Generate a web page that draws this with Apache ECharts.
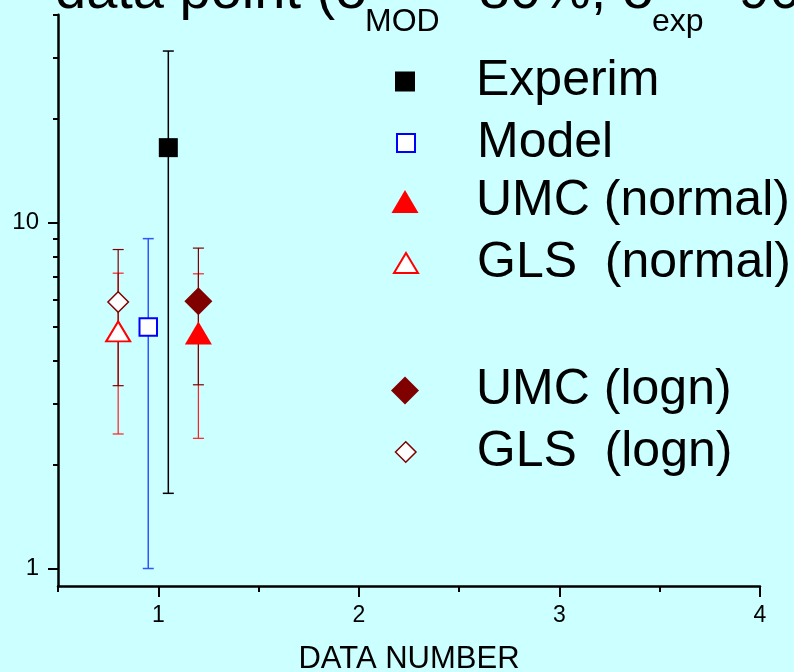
<!DOCTYPE html>
<html><head><meta charset="utf-8">
<script src="https://cdn.jsdelivr.net/npm/echarts@6/dist/echarts.min.js"></script>
<style>html,body{margin:0;padding:0;background:#ccffff}#c{width:794px;height:672px}</style>
</head><body><div id="c"></div>
<script>
// ---- data ----
const seriesNames = ['Experim', 'Model', 'UMC (normal)', 'GLS  (normal)', 'UMC (logn)', 'GLS  (logn)'];
const xPos = [1.05, 0.95, 1.2, 0.8, 1.2, 0.8];
const values = [16.5, 5.0, 4.8, 4.85, 5.93, 5.9];
const lowErr = [1.65, 1.0, 2.38, 2.45, 3.40, 3.38];
const highErr = [31.4, 9.0, 7.12, 7.15, 8.45, 8.37];
const xTickLabels = [1, 2, 3, 4];
const xMinorTicks = [0.5, 1.5, 2.5, 3.5];
const yTickLabels = [1, 10];
const yMinorTicks = [2, 3, 4, 5, 6, 7, 8, 9, 20, 30, 40];

// ---- styles ----
const FONT = '"Liberation Sans", Arial, sans-serif';
const styles = [
  {symbol: 'rect', size: [19, 19], fill: '#000000', stroke: '#000000', bw: 0, bar: '#000000', barW: 1.5, lw: 20, lh: 20, lbw: 0},
  {symbol: 'rect', size: [17.5, 17.5], fill: '#ffffff', stroke: '#0000ff', bw: 2, bar: '#3355ff', barW: 1.5, lw: 18, lh: 18, lbw: 2},
  {symbol: 'triangle', size: [27, 23], fill: '#ff0000', stroke: '#ff0000', bw: 0, bar: '#ff2020', barW: 1.2, lw: 27, lh: 23, lbw: 0},
  {symbol: 'triangle', size: [24, 20], fill: '#ffffff', stroke: '#ff0000', bw: 2, bar: '#ff2020', barW: 1.2, lw: 24, lh: 20, lbw: 2},
  {symbol: 'diamond', size: [28, 28], fill: '#800000', stroke: '#800000', bw: 0, bar: '#800000', barW: 1.2, lw: 28, lh: 28, lbw: 0},
  {symbol: 'diamond', size: [20.5, 20.5], fill: '#ffffff', stroke: '#800000', bw: 1.5, bar: '#800000', barW: 1.2, lw: 20.5, lh: 20.5, lbw: 1.5}
];
const legendCenters = [81.5, 143, 201.5, 263, 390.5, 452];
const barOrder = [0, 1, 2, 3, 4, 5];

const chart = echarts.init(document.getElementById('c'), null, {renderer: 'canvas'});

function makeErrRender(color, width) {
  return function (params, api) {
    const x = api.value(0), lo = api.value(1), hi = api.value(2);
    const pLo = api.coord([x, lo]);
    const pHi = api.coord([x, hi]);
    const hw = 5.5;
    const st = {stroke: color, lineWidth: width};
    return {
      type: 'group',
      children: [
        {type: 'line', shape: {x1: pLo[0], y1: pLo[1], x2: pHi[0], y2: pHi[1]}, style: st},
        {type: 'line', shape: {x1: pLo[0] - hw, y1: pLo[1], x2: pLo[0] + hw, y2: pLo[1]}, style: st},
        {type: 'line', shape: {x1: pHi[0] - hw, y1: pHi[1], x2: pHi[0] + hw, y2: pHi[1]}, style: st}
      ]
    };
  };
}

const series = [];
barOrder.forEach(i => {
  const s = styles[i];
  series.push({
    type: 'custom',
    name: 'err_' + i,
    xAxisIndex: 0, yAxisIndex: 0,
    z: 1,
    silent: true,
    renderItem: makeErrRender(s.bar, s.barW),
    encode: {x: 0, y: [1, 2]},
    data: [[xPos[i], lowErr[i], highErr[i]]]
  });
});
seriesNames.forEach((name, i) => {
  const s = styles[i];
  series.push({
    type: 'scatter',
    name: name,
    xAxisIndex: 0, yAxisIndex: 0,
    z: 3,
    symbol: s.symbol,
    symbolSize: s.size,
    itemStyle: {color: s.fill, borderColor: s.stroke, borderWidth: s.bw, opacity: 1},
    emphasis: {disabled: true},
    data: [[xPos[i], values[i]]]
  });
});

const legends = seriesNames.map((name, i) => {
  const s = styles[i];
  const iconLeft = 405 - s.lw / 2;
  return {
    show: true,
    data: [{name: name, icon: s.symbol, itemStyle: {color: s.fill, borderColor: s.stroke, borderWidth: s.lbw}}],
    left: iconLeft,
    top: legendCenters[i] - 25,
    padding: 0,
    itemWidth: s.lw,
    itemHeight: s.lh,
    symbolKeepAspect: false,
    selectedMode: false,
    textStyle: {fontSize: 50, lineHeight: 50, fontFamily: FONT, color: '#000', padding: [0, 0, 0, 476 - (iconLeft + s.lw) - 5]}
  };
});

const titleParts = [
  {text: 'data point (σ', x: 55, y: -7.4, size: 56},
  {text: 'MOD', x: 365, y: 22.5, size: 32},
  {text: '=80%, σ', x: 446, y: -7.4, size: 56},
  {text: 'exp', x: 652, y: 22.5, size: 32},
  {text: '=90%)', x: 706, y: -7.4, size: 56}
];

const option = {
  backgroundColor: '#ccffff',
  animation: false,
  grid: {left: 58, right: 34, top: 14.7, bottom: 86, containLabel: false, outerBoundsMode: 'none'},
  xAxis: [{
    type: 'value', min: 0.5, max: 4,
    axisLine: {show: true, onZero: false, lineStyle: {color: '#000', width: 2.5}},
    axisTick: {show: true, length: 11, customValues: xTickLabels, lineStyle: {color: '#000', width: 2}},
    axisLabel: {show: true, customValues: xTickLabels, fontSize: 23, margin: 18, color: '#000', fontFamily: FONT},
    splitLine: {show: false},
    name: 'DATA NUMBER', nameLocation: 'middle', nameGap: 58,
    nameTextStyle: {fontSize: 31, color: '#000', fontFamily: FONT}
  }, {
    type: 'value', min: 0.5, max: 4, position: 'bottom',
    axisLine: {show: false, onZero: false},
    axisTick: {show: true, length: 6, customValues: xMinorTicks, lineStyle: {color: '#000', width: 2}},
    axisLabel: {show: false},
    splitLine: {show: false}
  }],
  yAxis: [{
    type: 'log', logBase: 10, min: 0.89, max: 40,
    axisLine: {show: true, onZero: false, lineStyle: {color: '#000', width: 2.5}},
    axisTick: {show: true, length: 10, customValues: yTickLabels, lineStyle: {color: '#000', width: 2}},
    axisLabel: {show: true, customValues: yTickLabels, fontSize: 24, margin: 19, color: '#000', fontFamily: FONT},
    splitLine: {show: false}
  }, {
    type: 'log', logBase: 10, min: 0.89, max: 40, position: 'left',
    axisLine: {show: false, onZero: false},
    axisTick: {show: true, length: 5, customValues: yMinorTicks, lineStyle: {color: '#000', width: 2}},
    axisLabel: {show: false},
    splitLine: {show: false}
  }],
  legend: legends,
  graphic: titleParts.map(p => ({
    type: 'text', x: p.x, y: p.y, z: 100, silent: true,
    style: {text: p.text, fontSize: p.size, fontFamily: FONT, fill: '#000', align: 'left', verticalAlign: 'middle'}
  })),
  series: series
};
chart.setOption(option);
</script></body></html>
